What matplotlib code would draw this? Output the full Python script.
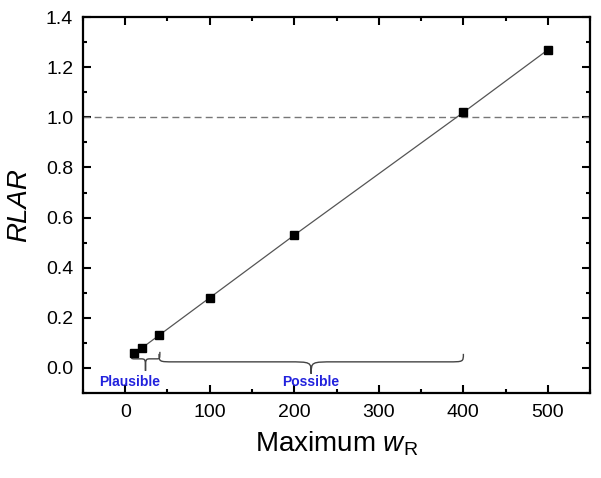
import matplotlib
matplotlib.use("Agg")
import matplotlib.pyplot as plt
from matplotlib.path import Path
from matplotlib.patches import PathPatch
from matplotlib.ticker import MultipleLocator

plt.rcParams["font.family"] = ["Liberation Sans", "DejaVu Sans"]
plt.rcParams["mathtext.fontset"] = "custom"
plt.rcParams["mathtext.rm"] = "Liberation Sans"
plt.rcParams["mathtext.it"] = "Liberation Sans:italic"

# data
max_wr = [10, 20, 40, 100, 200, 400, 500]
rlar = [0.06, 0.08, 0.13, 0.28, 0.53, 1.02, 1.27]
threshold = 1.0

# brace annotations: (x start, x end, label)
brace_ranges = [(7, 41, "Plausible"), (40, 400, "Possible")]
brace_labels_x = [5, 219]


def brace(ax, x0, x1, ytop, ymid, ytip, r, rc):
    xc = (x0 + x1) / 2
    verts = [
        (x0, ytop), (x0, ymid), (x0, ymid), (x0 + r, ymid),
        (xc - rc, ymid),
        (xc, ymid), (xc, ymid), (xc, ytip),
        (xc, ymid), (xc, ymid), (xc + rc, ymid),
        (x1 - r, ymid),
        (x1, ymid), (x1, ymid), (x1, ytop),
    ]
    codes = [Path.MOVETO, Path.CURVE4, Path.CURVE4, Path.CURVE4,
             Path.LINETO,
             Path.CURVE4, Path.CURVE4, Path.CURVE4,
             Path.CURVE4, Path.CURVE4, Path.CURVE4,
             Path.LINETO,
             Path.CURVE4, Path.CURVE4, Path.CURVE4]
    ax.add_patch(PathPatch(Path(verts, codes), facecolor="none",
                           edgecolor="#444444", lw=1.0))


fig = plt.figure(figsize=(6.01, 4.78), dpi=100)
ax = fig.add_axes([0.138, 0.178, 0.844, 0.786])

ax.axhline(threshold, color="#777777", lw=1.0, ls=(0, (5, 3)))
ax.plot(max_wr, rlar, color="#555555", lw=0.9, marker="s",
        markersize=6, markerfacecolor="black", markeredgecolor="black")

(p0, p1, lab0), (q0, q1, lab1) = brace_ranges
brace(ax, p0, p1, 0.064, 0.036, -0.012, 4, 6)
brace(ax, q0, q1, 0.056, 0.024, -0.024, 18, 28)
ax.text(brace_labels_x[0], -0.057, lab0, color="#2222dd", fontsize=10,
        fontweight="bold", ha="center", va="center")
ax.text(brace_labels_x[1], -0.057, lab1, color="#2222dd", fontsize=10,
        fontweight="bold", ha="center", va="center")

ax.set_xlim(-50, 550)
ax.set_ylim(-0.1, 1.4)
ax.xaxis.set_major_locator(MultipleLocator(100))
ax.xaxis.set_minor_locator(MultipleLocator(50))
ax.yaxis.set_major_locator(MultipleLocator(0.2))
ax.yaxis.set_minor_locator(MultipleLocator(0.1))
ax.set_xticks([0, 100, 200, 300, 400, 500])
ax.set_yticks([0.0, 0.2, 0.4, 0.6, 0.8, 1.0, 1.2, 1.4])
ax.set_yticklabels(["0.0", "0.2", "0.4", "0.6", "0.8", "1.0", "1.2", "1.4"])
ax.tick_params(which="both", direction="in", top=True, right=True,
               labelsize=14, width=1.5)
ax.tick_params(which="major", length=6)
ax.tick_params(which="minor", length=3)
ax.tick_params(axis="x", pad=8)
ax.tick_params(axis="y", pad=7)
for s in ax.spines.values():
    s.set_linewidth(1.6)

ax.set_xlabel(r"Maximum $\mathit{w}_\mathrm{R}$", fontsize=20, labelpad=6)
ax.set_ylabel("RLAR", fontsize=20, style="italic", labelpad=10)

fig.savefig("out.png", dpi=100)
